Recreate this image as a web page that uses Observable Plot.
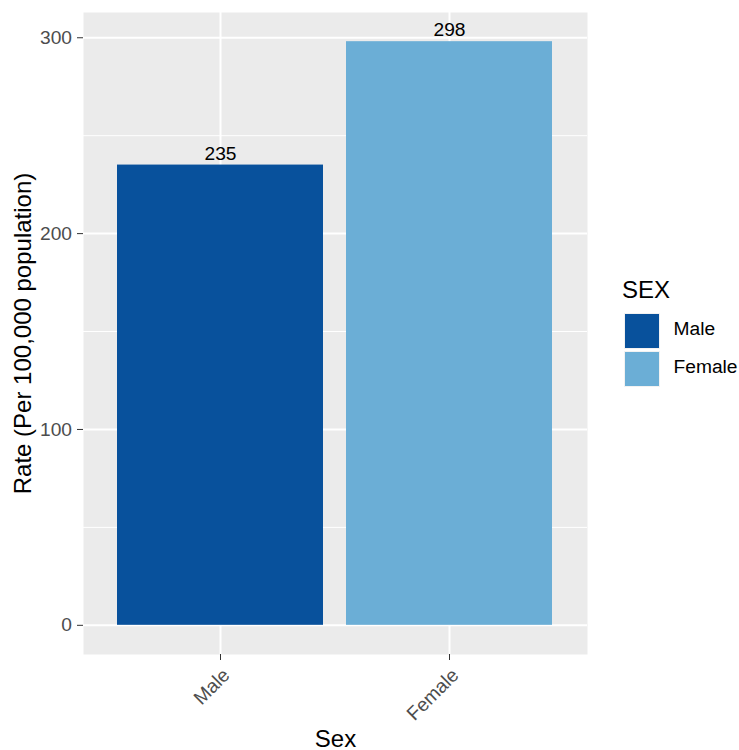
<!DOCTYPE html>
<html><head><meta charset="utf-8">
<script src="https://cdn.jsdelivr.net/npm/d3@7"></script>
<script src="https://cdn.jsdelivr.net/npm/@observablehq/plot@0.6"></script>
<style>
body{margin:0;background:#fff;font-family:"Liberation Sans",Arial,sans-serif;}
#wrap{position:relative;width:739px;height:750px;overflow:hidden;}
.lg{position:absolute;color:#000;white-space:nowrap;}
.key{position:absolute;box-sizing:border-box;width:36px;height:36px;border:1px solid #f2f2f2;}
</style></head><body>
<div id="wrap"><div id="chart"></div></div>
<script>
const categories = ["Male", "Female"];
const rates = [235, 298];
const colors = ["#08519C", "#6BAED6"];
const majorTicks = [0, 100, 200, 300];
const minorTicks = [50, 150, 250];
const legendTitle = "SEX";
const xTitle = "Sex";
const yTitle = "Rate (Per 100,000 population)";

const data = categories.map((c, i) => ({sex: c, rate: rates[i]}));
const font = "'Liberation Sans', Arial, sans-serif";

const plot = Plot.plot({
  width: 739, height: 750,
  marginLeft: 83, marginRight: 152, marginTop: 12, marginBottom: 96,
  style: {fontFamily: font, background: "#fff", overflow: "visible", fontSize: "19.2px"},
  x: {domain: categories, paddingInner: 0.1, paddingOuter: 0.15, align: 0.5},
  y: {domain: [-14.9, 312.9]},
  color: {domain: categories, range: colors},
  marks: [
    Plot.frame({fill: "#EBEBEB", stroke: null}),
    Plot.gridY(minorTicks, {stroke: "#fff", strokeOpacity: 1, strokeWidth: 1}),
    Plot.gridY(majorTicks, {stroke: "#fff", strokeOpacity: 1, strokeWidth: 2}),
    Plot.gridX(categories, {stroke: "#fff", strokeOpacity: 1, strokeWidth: 2}),
    Plot.barY(data, {x: "sex", y: "rate", fill: "sex"}),
    Plot.text(data, {x: "sex", y: "rate", text: d => String(d.rate), dy: -5.5, lineAnchor: "bottom", fontSize: 19.2, fill: "#000"}),
    Plot.axisY(majorTicks, {tickSize: 6, tickPadding: 5.5, fontSize: 19.2, fill: "#4D4D4D", stroke: "#333",
      label: yTitle, labelAnchor: "center", labelArrow: "none", labelOffset: 70}),
    Plot.axisX({tickSize: 6, tickPadding: 5.5, tickRotate: -45, fontSize: 19.2, fill: "#4D4D4D", stroke: "#333",
      label: xTitle, labelAnchor: "center", labelArrow: "none", labelOffset: 92})
  ]
});
// axis titles: black, larger
d3.select(plot).selectAll('[aria-label="y-axis label"], [aria-label="x-axis label"]')
  .attr("fill", "#000").attr("font-size", 24).selectAll("text").attr("font-size", 24);
// rotated x tick labels: top-aligned like ggplot (shift text only, not the tick marks)
d3.select(plot).selectAll('[aria-label="x-axis tick label"]')
  .attr("transform", function() { return (this.getAttribute("transform") || "") + " translate(6,6)"; });
document.getElementById("chart").appendChild(plot);

// legend
const wrap = d3.select("#wrap");
wrap.append("div").attr("class", "lg").style("left", "622px").style("top", "277.7px")
  .style("font-size", "24px").style("line-height", "24px").text(legendTitle);
categories.forEach((c, i) => {
  wrap.append("div").attr("class", "key").style("left", "624px").style("top", (313 + i * 38) + "px").style("background", colors[i]);
  wrap.append("div").attr("class", "lg").style("left", "673.5px").style("top", (318.8 + i * 37.8) + "px")
    .style("font-size", "19.2px").style("line-height", "19.2px").text(c);
});
</script>
</body></html>
